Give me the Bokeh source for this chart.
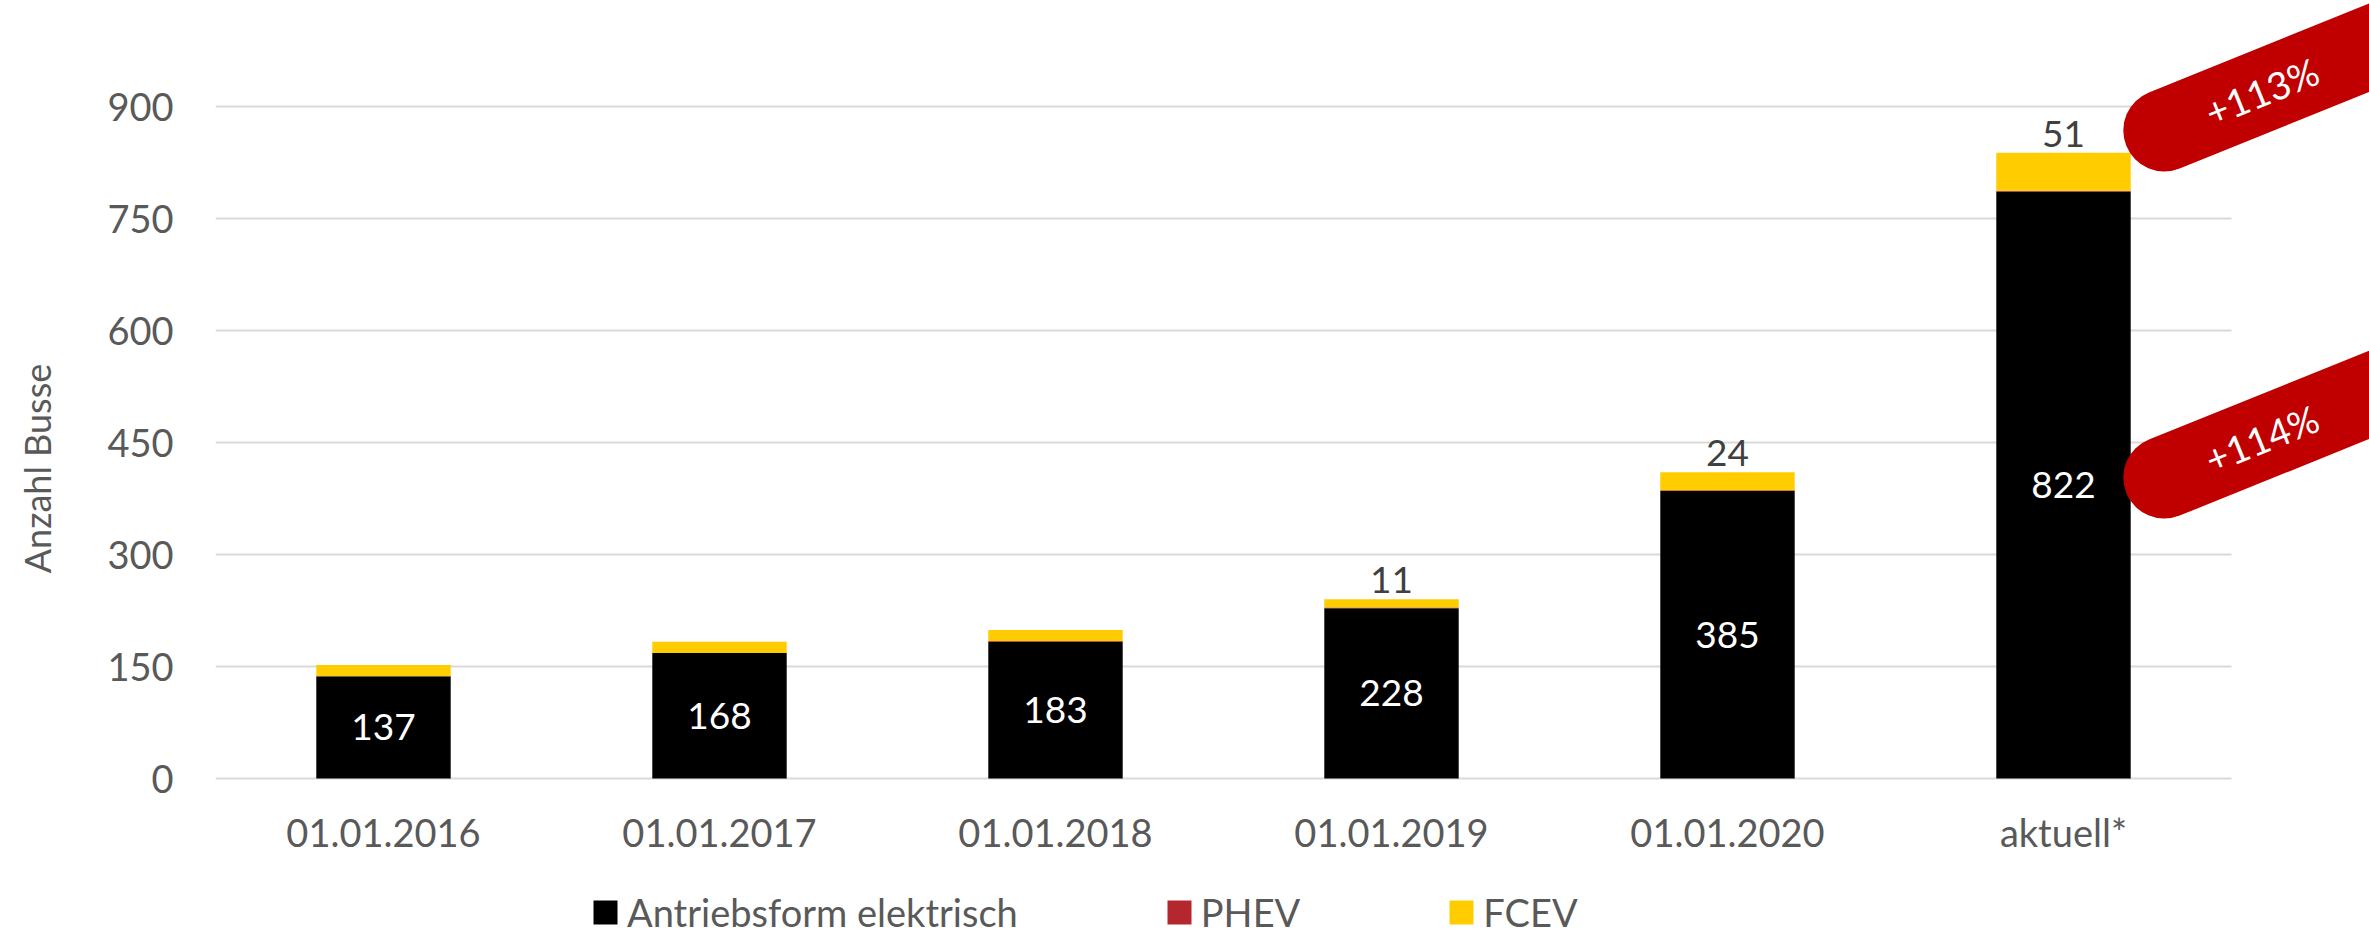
import math
from bokeh.plotting import figure
from bokeh.models import Range1d, FixedTicker, Legend, LegendItem, ColumnDataSource
from bokeh.embed import file_html
from bokeh.resources import INLINE
from bokeh.core.properties import value

# ---- data -------------------------------------------------------------
categories = ["01.01.2016", "01.01.2017", "01.01.2018", "01.01.2019", "01.01.2020", "aktuell*"]
elektrisch = [137, 168, 183, 228, 385, 786]
phev = [0, 0, 1, 1, 1, 1]
fcev = [15, 15, 15, 11, 24, 51]
elektrisch_labels = ["137", "168", "183", "228", "385", "822"]
fcev_labels = ["", "", "", "11", "24", "51"]
y_ticks = [0, 150, 300, 450, 600, 750, 900]
growth_labels = ["+114%", "+113%"]
series_names = ["Antriebsform elektrisch", "PHEV", "FCEV"]
series_keys = ["elektrisch", "phev", "fcev"]
colors = ["#000000", "#B3272D", "#FFCC00"]

# ---- layout -----------------------------------------------------------
FONT = "Lato"
W, H = 2369, 936
BL = 215
ZERO_PX = 778            # canvas y of value 0
px_y = 672 / 900         # pixels per unit on y
px_x = 336               # pixels per category
frame_w = W - BL
x_span = frame_w / px_x
y_end = ZERO_PX / px_y
y_start = -(H - ZERO_PX) / px_y
n = len(categories)
xs = list(range(n))

p = figure(width=W, height=H, output_backend="svg", toolbar_location=None,
           x_range=Range1d(-0.5, x_span - 0.5), y_range=Range1d(y_start, y_end),
           min_border_left=BL, min_border_right=0, min_border_top=0,
           min_border_bottom=0, outline_line_color=None)
p.xgrid.visible = False
p.ygrid.visible = False

# gridlines limited to the category area
p.segment(x0=[-0.5] * len(y_ticks), y0=y_ticks, x1=[n - 0.5] * len(y_ticks), y1=y_ticks,
          line_color="#D9D9D9", line_width=2)

src = ColumnDataSource(dict(x=xs, elektrisch=elektrisch, phev=phev, fcev=fcev))
rs = p.vbar_stack(series_keys, x="x", width=0.4, source=src,
                  fill_color=colors, line_color=None)

# labels inside black bars
p.text(x=xs, y=[e / 2 for e in elektrisch], text=elektrisch_labels,
       text_color="white", text_align="center", text_baseline="middle",
       text_font=value(FONT), text_font_size=value("37px"))

# FCEV labels on top
totals = [e + ph + f for e, ph, f in zip(elektrisch, phev, fcev)]
lx = [x for x, t in zip(xs, fcev_labels) if t]
ly = [tot for tot, t in zip(totals, fcev_labels) if t]
lt = [t for t in fcev_labels if t]
p.text(x=lx, y=ly, text=lt, text_color="#404040", text_align="center",
       text_baseline="bottom", y_offset=-6,
       text_font=value(FONT), text_font_size=value("37px"))

# growth pills
ang = math.radians(22)
slope = math.tan(ang) * px_x / px_y
pill_x0 = n - 1 + 0.3
pill_y0 = [elektrisch[-1] / 2 + 10, totals[-1] + 30]
length = 1.5
p.segment(x0=[pill_x0] * 2, y0=pill_y0, x1=[pill_x0 + length] * 2,
          y1=[y + length * slope for y in pill_y0],
          line_color="#C00000", line_width=82, line_cap="round")
tdx = 0.29
p.text(x=[pill_x0 + tdx] * 2, y=[y + tdx * slope for y in pill_y0], text=growth_labels,
       angle=ang, text_color="white", text_align="center", text_baseline="middle",
       text_font=value(FONT), text_font_size=value("38px"))

# axes
ya = p.yaxis[0]
ya.ticker = FixedTicker(ticks=y_ticks)
ya.axis_line_color = None
ya.major_tick_line_color = None
ya.minor_tick_line_color = None
ya.major_label_standoff = 36
ya.major_label_text_font = FONT
ya.major_label_text_font_size = "38px"
ya.major_label_text_color = "#595959"
ya.axis_label = "Anzahl Busse"
ya.axis_label_text_font = FONT
ya.axis_label_text_font_size = "36px"
ya.axis_label_text_font_style = "normal"
ya.axis_label_text_color = "#595959"
ya.axis_label_standoff = 45

xa = p.xaxis[0]
xa.fixed_location = 0
xa.ticker = FixedTicker(ticks=xs)
xa.major_label_overrides = {i: c for i, c in enumerate(categories)}
xa.axis_line_color = None
xa.major_tick_line_color = None
xa.minor_tick_line_color = None
xa.major_label_standoff = 24
xa.major_label_text_font = FONT
xa.major_label_text_font_size = "38px"
xa.major_label_text_color = "#595959"

legend = Legend(items=[LegendItem(label=nm, renderers=[r]) for nm, r in zip(series_names, rs)],
                orientation="horizontal", location=(375, 1), padding=0, margin=0,
                spacing=146, glyph_width=30, glyph_height=30, label_standoff=7,
                label_text_font=FONT, label_text_font_size="38px",
                label_text_color="#595959", border_line_color=None,
                background_fill_alpha=0)
p.add_layout(legend)

open("out.html", "w").write(file_html(p, INLINE))
